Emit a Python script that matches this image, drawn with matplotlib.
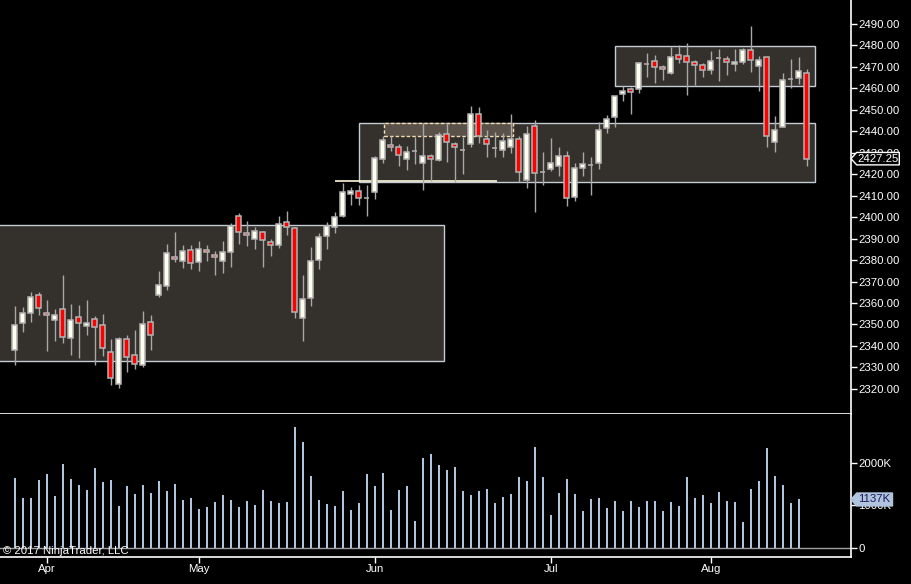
import matplotlib
matplotlib.use("Agg")
import matplotlib.pyplot as plt
import matplotlib.transforms as mtransforms
from matplotlib.patches import Rectangle, Polygon
import numpy as np

plt.rcParams['font.family'] = ['Liberation Sans', 'DejaVu Sans']

# ---------------- data ----------------
opens = [2338.2, 2350.8, 2355.2, 2363.6, 2355.5, 2352.2, 2357.1, 2343.5, 2353.3, 2349.4,
         2352.4, 2349.6, 2337.0, 2322.1, 2343.1, 2335.6, 2331.2, 2351.0, 2363.9, 2368.1,
         2381.3, 2379.4, 2384.5, 2379.3, 2384.5, 2382.2, 2379.7, 2383.9, 2400.4, 2392.5,
         2389.7, 2392.9, 2388.3, 2386.9, 2397.6, 2394.8, 2352.9, 2362.2, 2379.9, 2391.4,
         2395.2, 2400.7, 2410.9, 2412.2, 2409.0, 2411.9, 2427.3, 2433.5, 2432.5, 2427.3,
         2430.7, 2425.4, 2428.3, 2426.8, 2438.6, 2433.9, 2431.4, 2433.9, 2447.9, 2436.3,
         2432.0, 2431.4, 2432.5, 2436.3, 2417.2, 2442.3, 2421.2, 2422.3, 2424.0, 2428.3,
         2409.5, 2423.0, 2424.3, 2425.1, 2441.4, 2446.8, 2457.2, 2459.7, 2459.9, 2471.5,
         2472.8, 2469.8, 2467.3, 2475.4, 2474.9, 2472.1, 2470.7, 2468.4, 2474.0, 2473.5,
         2471.2, 2472.4, 2477.7, 2470.3, 2474.5, 2434.9, 2441.8, 2464.5, 2464.7, 2467.0]
highs = [2358.6, 2358.0, 2365.1, 2365.1, 2361.4, 2357.2, 2373.1, 2359.5, 2359.1, 2361.4,
         2354.0, 2354.9, 2343.2, 2344.3, 2345.1, 2347.4, 2356.3, 2354.4, 2374.9, 2387.5,
         2393.1, 2386.9, 2386.9, 2388.9, 2386.9, 2384.2, 2388.9, 2397.1, 2401.8, 2398.2,
         2395.3, 2393.4, 2389.7, 2400.5, 2402.9, 2395.2, 2373.0, 2386.1, 2392.6, 2397.9,
         2402.4, 2416.0, 2414.0, 2414.8, 2414.8, 2428.5, 2437.8, 2437.8, 2434.1, 2433.3,
         2437.5, 2443.7, 2429.4, 2439.5, 2443.7, 2435.0, 2437.5, 2451.8, 2451.3, 2440.5,
         2439.5, 2439.1, 2448.1, 2437.8, 2442.6, 2445.3, 2430.4, 2436.7, 2432.7, 2430.7,
         2425.2, 2430.4, 2427.9, 2444.2, 2447.4, 2456.6, 2461.1, 2460.8, 2472.1, 2476.3,
         2475.5, 2470.7, 2479.4, 2480.2, 2481.0, 2473.2, 2471.7, 2477.6, 2478.2, 2475.1,
         2478.2, 2478.7, 2489.1, 2475.1, 2474.8, 2447.1, 2467.0, 2473.7, 2474.5, 2469.0]
lows = [2331.2, 2346.7, 2351.3, 2354.6, 2337.8, 2342.5, 2341.5, 2335.8, 2334.5, 2345.1,
        2331.2, 2335.3, 2321.8, 2320.6, 2327.9, 2329.3, 2330.3, 2338.1, 2363.0, 2366.1,
        2379.3, 2376.3, 2375.8, 2375.1, 2379.7, 2373.2, 2374.1, 2376.9, 2387.7, 2386.7,
        2385.3, 2376.9, 2382.1, 2385.8, 2391.7, 2352.9, 2342.3, 2358.8, 2376.0, 2385.3,
        2392.8, 2400.1, 2405.7, 2405.7, 2400.7, 2408.5, 2425.1, 2431.0, 2423.8, 2422.0,
        2424.8, 2412.7, 2416.8, 2426.3, 2425.9, 2416.4, 2420.3, 2432.8, 2434.4, 2428.2,
        2428.2, 2428.2, 2429.7, 2416.4, 2413.7, 2402.6, 2415.1, 2421.7, 2419.2, 2405.4,
        2407.7, 2419.2, 2410.3, 2422.6, 2439.1, 2442.2, 2454.3, 2448.1, 2457.9, 2465.5,
        2462.7, 2463.7, 2466.5, 2471.7, 2457.1, 2461.6, 2465.5, 2466.5, 2463.6, 2466.1,
        2467.9, 2471.4, 2467.8, 2458.9, 2432.9, 2430.5, 2441.8, 2460.3, 2462.0, 2424.0]
closes = [2349.6, 2355.2, 2362.6, 2357.5, 2354.3, 2354.6, 2344.3, 2351.9, 2350.5, 2350.5,
          2349.0, 2338.9, 2325.2, 2343.1, 2335.0, 2331.7, 2350.1, 2345.3, 2368.2, 2383.1,
          2380.4, 2384.1, 2378.5, 2385.0, 2383.6, 2381.3, 2383.6, 2396.0, 2392.9, 2391.5,
          2393.4, 2389.2, 2386.9, 2396.7, 2395.3, 2355.6, 2361.7, 2379.4, 2390.6, 2396.0,
          2399.9, 2411.7, 2412.0, 2408.8, 2409.0, 2427.4, 2435.8, 2432.5, 2428.8, 2430.2,
          2430.7, 2428.5, 2426.9, 2438.1, 2435.2, 2432.5, 2431.4, 2447.9, 2437.8, 2433.9,
          2432.0, 2435.3, 2436.3, 2420.9, 2438.6, 2420.4, 2421.2, 2425.1, 2428.3, 2408.8,
          2422.7, 2424.6, 2424.3, 2440.5, 2445.7, 2456.4, 2458.6, 2458.2, 2471.7, 2471.5,
          2469.8, 2468.9, 2474.5, 2473.5, 2472.1, 2470.7, 2468.4, 2472.6, 2474.0, 2472.1,
          2472.1, 2477.7, 2473.1, 2473.1, 2437.7, 2440.5, 2463.7, 2464.5, 2467.9, 2427.25]
volumes = [1640, 1172, 1172, 1594, 1734, 1219, 1968, 1617, 1476, 1359,
           1875, 1547, 1594, 984, 1453, 1265, 1476, 1289, 1570, 1336,
           1500, 1125, 1172, 914, 961, 1078, 1242, 1125, 961, 1101,
           1008, 1359, 1101, 1054, 1078, 2836, 2484, 1687, 1125, 1031,
           984, 1336, 890, 1054, 1734, 1453, 1758, 890, 1359, 1453,
           633, 2109, 2203, 1945, 1828, 1898, 1336, 1242, 1336, 1383,
           1054, 1195, 1265, 1664, 1570, 2367, 1664, 773, 1289, 1617,
           1265, 867, 1148, 1172, 937, 1101, 867, 1101, 961, 1101,
           1101, 867, 1078, 984, 1664, 1172, 1242, 1054, 1312, 1101,
           1078, 609, 1383, 1570, 2343, 1687, 1476, 1054, 1137]
month_labels = ['Apr', 'May', 'Jun', 'Jul', 'Aug']
month_bar_index = [4, 23, 45, 67, 87]
price_ticks = list(range(2320, 2500, 10))
volume_ticks = [0, 1000, 2000]
volume_tick_labels = ['0', '1000K', '2000K']
last_price = 2427.25
last_volume = 1137

# zones drawn on the chart: (start bar, end bar, low, high)
zones = [(-3.0, 53.7, 2332.8, 2396.2),
         (43.07, 100.0, 2416.2, 2443.7),
         (75.07, 100.0, 2461.3, 2479.7)]
dashed_zone = (46.2, 62.3, 2437.8, 2443.7)
hline_level = (40.04, 60.25, 2416.7)

# ---------------- style ----------------
BG = 'black'
ZONE_FILL = '#34302b'
ZONE_EDGE = '#c4ccd4'
UP = '#fffff0'
DOWN = '#ff0000'
OUTLINE = '#b4b4b4'
WICK = '#a8a8a8'
VOL = '#b0c4de'
TXT = 'white'
FS = 8.2

W, H = 911, 584
fig = plt.figure(figsize=(W / 100, H / 100), dpi=100, facecolor=BG)
ax1 = fig.add_axes([0, (H - 413.5) / H, 850.5 / W, 413.5 / H], facecolor=BG)
ax2 = fig.add_axes([0, (H - 556.5) / H, 850.5 / W, 143 / H], facecolor=BG, sharex=ax1)

x = np.arange(len(opens))
o = np.array(opens); h = np.array(highs); l = np.array(lows); c = np.array(closes)

# zones
for x0, x1, lo, hi in zones:
    ax1.add_patch(Rectangle((x0, lo), x1 - x0, hi - lo, facecolor=ZONE_FILL,
                            edgecolor=ZONE_EDGE, lw=1.0, zorder=1))
x0, x1, lo, hi = dashed_zone
ax1.add_patch(Rectangle((x0, lo), x1 - x0, hi - lo, facecolor='#5a5148',
                        edgecolor='#f5deb3', lw=1.0, ls=(0, (2.5, 1.5)), zorder=1.2))
ax1.hlines(hline_level[2], hline_level[0], hline_level[1], color='#fff8dc', lw=1.2, zorder=1.3)

# candles
ax1.vlines(x, l, h, color=WICK, lw=1.0, zorder=2)
colors = [UP if cc >= oo else DOWN for oo, cc in zip(o, c)]
ax1.bar(x, np.abs(c - o), bottom=np.minimum(o, c), width=0.68, color=colors,
        edgecolor=OUTLINE, linewidth=1.1, zorder=3)

ax1.set_xlim(-14.7 / 8, 835.8 / 8)
ax1.set_ylim(2490 - 389.5 / 2.146, 2490 + 24 / 2.146)

# volume
vx = np.arange(len(volumes))
ax2.bar(vx, volumes, width=0.26, color=VOL, zorder=3)
ax2.axhline(0, color='#a0a0a0', lw=1.0, zorder=2)
ax2.set_ylim(-8.5 / 0.04267, 134.5 / 0.04267)

# axes styling
for ax in (ax1, ax2):
    for s in ('top', 'left'):
        ax.spines[s].set_visible(False)
    ax.spines['right'].set_color('white')
    ax.spines['bottom'].set_color('white')
    ax.spines['right'].set_linewidth(1.2)
    ax.spines['bottom'].set_linewidth(1.2)
    ax.yaxis.tick_right()
    ax.tick_params(axis='y', colors='white', labelcolor=TXT, direction='out',
                   length=4.3, width=1.0, pad=1.2, labelsize=FS)

ax1.set_yticks(price_ticks)
ax1.set_yticklabels([f'{p:.2f}' for p in price_ticks])
ax1.tick_params(axis='x', bottom=False, labelbottom=False)

ax2.set_yticks(volume_ticks)
ax2.set_yticklabels(volume_tick_labels)
ax2.set_xticks(month_bar_index)
ax2.set_xticklabels(month_labels)
ax2.tick_params(axis='x', colors='white', labelcolor=TXT, direction='out',
                length=4.3, width=1.0, pad=1.3, labelsize=FS)

# last price marker
tr1 = mtransforms.blended_transform_factory(ax1.transAxes, ax1.transData)
hh = 2.9
ax1.add_patch(Polygon([(851 / 850.5, last_price), (856.7 / 850.5, last_price + hh),
                       (899.3 / 850.5, last_price + hh), (899.3 / 850.5, last_price - hh),
                       (856.7 / 850.5, last_price - hh)], closed=True, transform=tr1,
                      facecolor='black', edgecolor='white', lw=1.0, clip_on=False, zorder=10))
ax1.text(857.8 / 850.5, last_price, f'{last_price:.2f}', transform=tr1, ha='left', va='center',
         color='white', fontsize=FS, clip_on=False, zorder=11)

# last volume marker
tr2 = mtransforms.blended_transform_factory(ax2.transAxes, ax2.transData)
vh = 152
ax2.add_patch(Polygon([(851 / 850.5, last_volume), (856.7 / 850.5, last_volume + vh),
                       (892.5 / 850.5, last_volume + vh), (892.5 / 850.5, last_volume - vh),
                       (856.7 / 850.5, last_volume - vh)], closed=True, transform=tr2,
                      facecolor=VOL, edgecolor=VOL, lw=1.0, clip_on=False, zorder=10))
ax2.text(857.8 / 850.5, last_volume, f'{last_volume}K', transform=tr2, ha='left', va='center',
         color='#1a1a5e', fontsize=FS, clip_on=False, zorder=11)

fig.text(3 / W, 1 - 554 / H, '\u00a9 2017 NinjaTrader, LLC', color=TXT, fontsize=FS,
         ha='left', va='baseline', zorder=20)

fig.savefig('out.png', dpi=100, facecolor=BG)
